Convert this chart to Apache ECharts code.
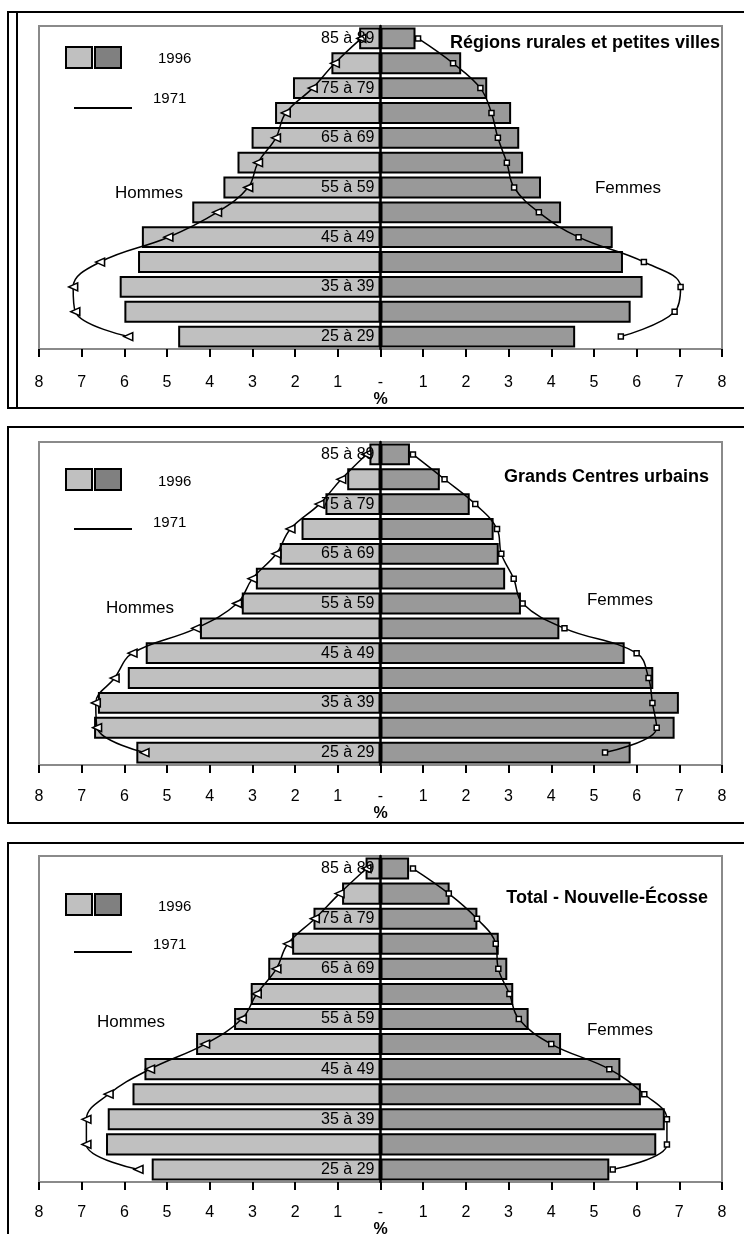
<!DOCTYPE html>
<html><head><meta charset="utf-8">
<script src="https://cdn.jsdelivr.net/npm/echarts@6.0.0/dist/echarts.min.js"></script>
<style>html,body{margin:0;padding:0;background:#fff}#c{width:744px;height:1234px}</style>
</head><body><div id="c"></div>
<script>
// Age groups, bottom to top
const categories = ['25 à 29','30 à 34','35 à 39','40 à 44','45 à 49','50 à 54','55 à 59','60 à 64','65 à 69','70 à 74','75 à 79','80 à 84','85 à 89'];
const panelTitles = ['Régions rurales et petites villes','Grands Centres urbains','Total - Nouvelle-Écosse'];
const legendLabels = ['1996','1971'];
const sideLabels = ['Hommes','Femmes'];
const axisName = '%';

// % of population, ordered like categories (25 à 29 first)
const ruralMen1996   = [4.74, 6.00, 6.11, 5.68, 5.59, 4.41, 3.68, 3.35, 3.02, 2.47, 2.05, 1.15, 0.50];
const ruralWomen1996 = [4.56, 5.86, 6.14, 5.68, 5.44, 4.23, 3.76, 3.34, 3.25, 3.06, 2.50, 1.89, 0.82];
const ruralMen1971   = [5.91, 7.15, 7.20, 6.57, 4.97, 3.83, 3.10, 2.87, 2.45, 2.22, 1.59, 1.07, 0.45];
const ruralWomen1971 = [5.63, 6.89, 7.03, 6.17, 4.64, 3.71, 3.13, 2.96, 2.75, 2.60, 2.34, 1.70, 0.88];

const urbanMen1996   = [5.72, 6.71, 6.62, 5.92, 5.50, 4.23, 3.25, 2.92, 2.36, 1.85, 1.29, 0.78, 0.26];
const urbanWomen1996 = [5.86, 6.89, 6.99, 6.39, 5.72, 4.19, 3.29, 2.92, 2.77, 2.65, 2.09, 1.39, 0.69];
const urbanMen1971   = [5.53, 6.64, 6.67, 6.23, 5.81, 4.32, 3.36, 3.00, 2.44, 2.11, 1.43, 0.92, 0.33];
const urbanWomen1971 = [5.26, 6.47, 6.37, 6.28, 6.00, 4.31, 3.33, 3.12, 2.83, 2.73, 2.22, 1.50, 0.76];

const totalMen1996   = [5.36, 6.43, 6.39, 5.81, 5.53, 4.32, 3.43, 3.04, 2.63, 2.07, 1.57, 0.90, 0.35];
const totalWomen1996 = [5.36, 6.46, 6.66, 6.10, 5.62, 4.23, 3.47, 3.11, 2.97, 2.77, 2.27, 1.62, 0.67];
const totalMen1971   = [5.67, 6.89, 6.89, 6.37, 5.40, 4.11, 3.25, 2.90, 2.44, 2.17, 1.54, 0.96, 0.33];
const totalWomen1971 = [5.44, 6.71, 6.71, 6.18, 5.36, 4.00, 3.24, 3.02, 2.76, 2.70, 2.26, 1.60, 0.76];

const panelData = [
  [ruralMen1996, ruralWomen1996, ruralMen1971, ruralWomen1971],
  [urbanMen1996, urbanWomen1996, urbanMen1971, urbanWomen1971],
  [totalMen1996, totalWomen1996, totalMen1971, totalWomen1971]
];

// layout (pixels)
const GRID_LEFT = 39, GRID_RIGHT = 22, CHART_W = 744;
const GRID_W = CHART_W - GRID_LEFT - GRID_RIGHT;
const layout = [
  {top:26, height:323, frameTop:12, frameBottom:408, doubleLeft:true, labelMargin:26, nameGap:38,
   titleX:720, titleY:43, hx:149, hy:193, fx:628, fy:188, boxY:47, y1996:59, y1971:99, lineY:108},
  {top:442, height:323, frameTop:427, frameBottom:823, doubleLeft:false, labelMargin:24, nameGap:35,
   titleX:709, titleY:477, hx:140, hy:608, fx:620, fy:600, boxY:469, y1996:482, y1971:523, lineY:529},
  {top:856, height:326, frameTop:843, frameBottom:1260, doubleLeft:false, labelMargin:23, nameGap:34,
   titleX:708, titleY:898, hx:131, hy:1022, fx:620, fy:1030, boxY:894, y1996:907, y1971:945, lineY:952}
];

const FONT = '"Liberation Sans", Arial, sans-serif';
const MEN = '#c0c0c0', WOMEN = '#999999', WOMEN_LEG = '#808080';

const grids = [], xAxes = [], yAxes = [], series = [], graphics = [];
layout.forEach((L, i) => {
  grids.push({left:GRID_LEFT, right:GRID_RIGHT, top:L.top, height:L.height, show:true,
    containLabel:false, outerBoundsMode:'none',
    borderColor:'#8a8a8a', borderWidth:2, backgroundColor:'transparent'});
  xAxes.push({type:'value', gridIndex:i, min:-8, max:8, interval:1,
    axisLine:{show:false}, splitLine:{show:false},
    axisTick:{show:true, length:8, lineStyle:{color:'#000', width:2}},
    axisLabel:{margin:L.labelMargin, color:'#000', fontSize:16, fontFamily:FONT,
      formatter: v => v === 0 ? '-' : String(Math.abs(v))},
    name:axisName, nameLocation:'middle', nameGap:L.nameGap,
    nameTextStyle:{fontSize:16, fontWeight:'bold', color:'#000', fontFamily:FONT}
  });
  yAxes.push({type:'category', gridIndex:i, data:categories, z:10,
    position:'left', offset:-GRID_W / 2,
    axisLine:{show:true, onZero:false, lineStyle:{color:'#000', width:2.5}},
    axisTick:{show:false}, splitLine:{show:false},
    axisLabel:{interval:1, margin:6, color:'#000', fontSize:16, fontFamily:FONT}
  });
  const [m96, w96, m71, w71] = panelData[i];
  series.push({type:'bar', xAxisIndex:i, yAxisIndex:i, name:'Hommes 1996',
    data:m96.map(v => -v), barGap:'-100%', barCategoryGap:'12%',
    itemStyle:{color:MEN, borderColor:'#000', borderWidth:2}, z:2});
  series.push({type:'bar', xAxisIndex:i, yAxisIndex:i, name:'Femmes 1996',
    data:w96, barGap:'-100%', barCategoryGap:'12%',
    itemStyle:{color:WOMEN, borderColor:'#000', borderWidth:2}, z:2});
  series.push({type:'line', xAxisIndex:i, yAxisIndex:i, name:'Hommes 1971',
    data:m71.map(v => -v), smooth:0.4, symbol:'triangle', symbolSize:[8,9], symbolRotate:90,
    lineStyle:{color:'#000', width:1.5},
    itemStyle:{color:'#fff', borderColor:'#000', borderWidth:1.5}, z:5});
  series.push({type:'line', xAxisIndex:i, yAxisIndex:i, name:'Femmes 1971',
    data:w71, smooth:0.4, symbol:'rect', symbolSize:5,
    lineStyle:{color:'#000', width:1.5},
    itemStyle:{color:'#fff', borderColor:'#000', borderWidth:1.5}, z:5});

  // frames
  graphics.push({type:'rect', shape:{x:8, y:L.frameTop, width:760, height:L.frameBottom - L.frameTop},
    style:{fill:null, stroke:'#000', lineWidth:2}, silent:true, z:1});
  if (L.doubleLeft) {
    graphics.push({type:'line', shape:{x1:17, y1:L.frameTop, x2:17, y2:L.frameBottom},
      style:{stroke:'#000', lineWidth:2}, silent:true});
  }
  // legend
  graphics.push({type:'rect', shape:{x:66, y:L.boxY, width:26, height:21},
    style:{fill:MEN, stroke:'#000', lineWidth:2}, z:20});
  graphics.push({type:'rect', shape:{x:95, y:L.boxY, width:26, height:21},
    style:{fill:WOMEN_LEG, stroke:'#000', lineWidth:2}, z:20});
  graphics.push({type:'text', x:158, y:L.y1996, style:{text:legendLabels[0], font:'15px '+FONT,
    fill:'#000', verticalAlign:'middle', align:'left'}, z:20});
  graphics.push({type:'line', shape:{x1:74, y1:L.lineY, x2:132, y2:L.lineY},
    style:{stroke:'#000', lineWidth:2}, z:20});
  graphics.push({type:'text', x:153, y:L.y1971, style:{text:legendLabels[1], font:'15px '+FONT,
    fill:'#000', verticalAlign:'middle', align:'left'}, z:20});
  // texts
  graphics.push({type:'text', x:L.titleX, y:L.titleY, style:{text:panelTitles[i],
    font:'bold 18px '+FONT, fill:'#000', align:'right', verticalAlign:'middle'}, z:20});
  graphics.push({type:'text', x:L.hx, y:L.hy, style:{text:sideLabels[0],
    font:'17px '+FONT, fill:'#000', align:'center', verticalAlign:'middle'}, z:20});
  graphics.push({type:'text', x:L.fx, y:L.fy, style:{text:sideLabels[1],
    font:'17px '+FONT, fill:'#000', align:'center', verticalAlign:'middle'}, z:20});
});

const chart = echarts.init(document.getElementById('c'), null, {renderer:'canvas'});
chart.setOption({
  animation:false,
  backgroundColor:'#fff',
  grid:grids, xAxis:xAxes, yAxis:yAxes, series:series, graphic:graphics
});
</script>
</body></html>
